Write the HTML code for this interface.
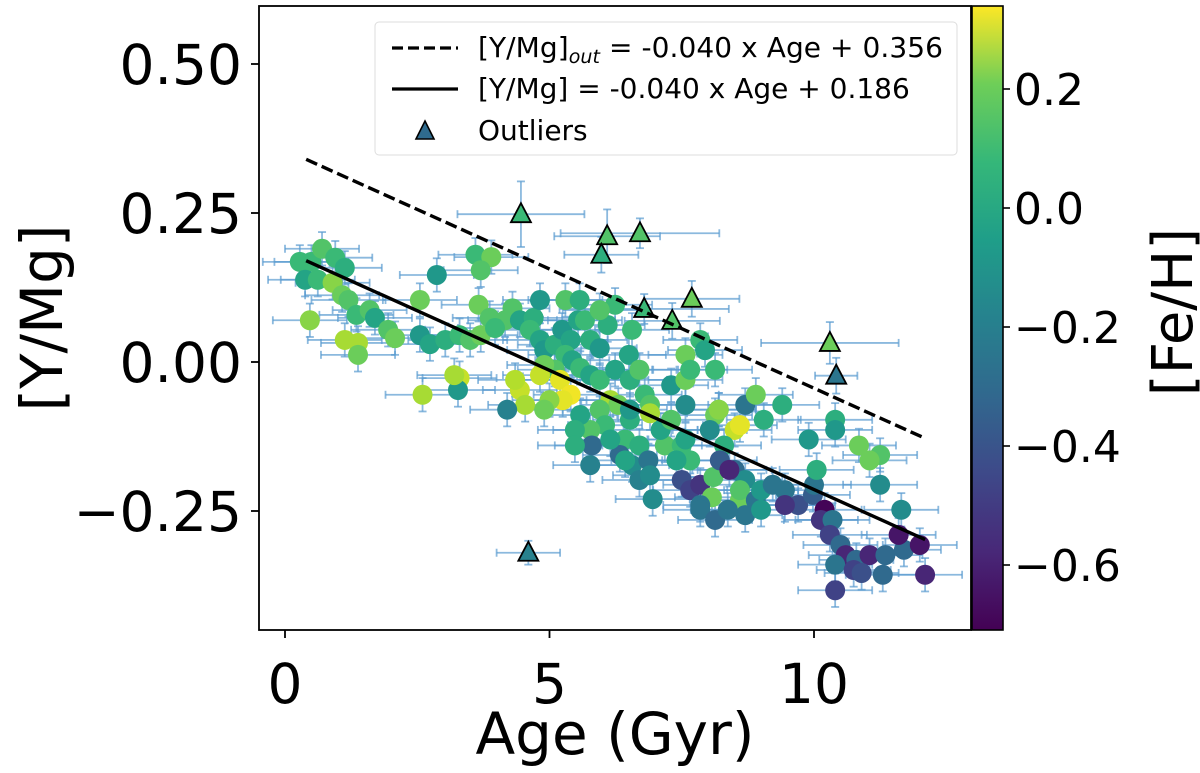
<!DOCTYPE html>
<html><head><meta charset="utf-8"><style>
html,body{margin:0;padding:0;background:#fff;}
svg{display:block;font-family:"DejaVu Sans","Liberation Sans",sans-serif;}
</style></head><body>
<svg id="chart" width="1200" height="773" viewBox="0 0 1200 773" xmlns="http://www.w3.org/2000/svg">
<defs>
<linearGradient id="vir" x1="0" y1="1" x2="0" y2="0">
<stop offset="0" stop-color="#440154"/><stop offset="0.125" stop-color="#482878"/><stop offset="0.25" stop-color="#3e4989"/><stop offset="0.375" stop-color="#31688e"/><stop offset="0.5" stop-color="#26828e"/><stop offset="0.625" stop-color="#1f9e89"/><stop offset="0.75" stop-color="#35b779"/><stop offset="0.875" stop-color="#6ece58"/><stop offset="1" stop-color="#fde725"/>
</linearGradient>
</defs>
<g id="errs"></g>
<g id="marks"></g>
<g id="fits"></g>
<rect x="259" y="6" width="712" height="624" fill="none" stroke="#000" stroke-width="1.8"/>
<g id="axes"></g>
<rect x="972" y="6" width="31" height="624" fill="url(#vir)" stroke="#000" stroke-width="1.6"/>
<g id="legend">
<rect x="375" y="22" width="582" height="133" rx="4" fill="#fff" fill-opacity="0.85" stroke="#ddd" stroke-width="1"/>
<g>
<line x1="392" y1="48" x2="458" y2="48" stroke="#000" stroke-width="3.2" stroke-dasharray="11,5"/>
<text x="478" y="57" font-size="28" textLength="465">[Y/Mg]<tspan font-size="19" font-style="italic" dy="6">out</tspan><tspan dy="-6"> = -0.040 x Age + 0.356</tspan></text>
</g>
<g>
<line x1="392" y1="89" x2="458" y2="89" stroke="#000" stroke-width="3.2"/>
<text x="478" y="98" font-size="28">[Y/Mg] = -0.040 x Age + 0.186</text>
</g>
<g>
<polygon points="425,121 434,139 416,139" fill="#2f6b8e" stroke="#000" stroke-width="1.6"/>
<text x="478" y="140" font-size="28">Outliers</text>
</g>
</g>
<text x="615" y="754" font-size="58" text-anchor="middle">Age (Gyr)</text>
<text transform="translate(62,318) rotate(-90)" font-size="58" text-anchor="middle">[Y/Mg]</text>
<text transform="translate(1192,312) rotate(-90)" font-size="56" text-anchor="middle">[Fe/H]</text>
</svg>
<script>
const xTicks=[0,5,10];
const xTickLabels=["0","5","10"];
const yTicks=[0.5,0.25,0,-0.25];
const yTickLabels=["0.50","0.25","0.00","\u22120.25"];
const cbTicks=[0.2,0,-0.2,-0.4,-0.6];
const cbTickLabels=["0.2","0.0","\u22120.2","\u22120.4","\u22120.6"];
const fitSlope=-0.040, fitOutIntercept=0.356, fitIntercept=0.186;
const fitRange=[0.4,12.1];
const pointAge=[0.28,0.5,0.7,0.95,1.13,0.38,0.62,0.9,1.08,0.47,1.2,1.35,1.6,1.7,1.95,2.08,1.13,1.38,1.38,2.55,2.87,3.6,3.9,3.7,2.55,2.74,3.03,3.3,3.5,3.7,3.66,3.87,4.16,4.3,3.97,4.44,4.7,4.82,4.63,4.82,4.9,5.1,5.24,5.4,5.54,5.3,5.57,5.67,5.3,5.77,5.95,6.1,6.24,5.95,5.43,5.58,5.77,5.1,4.9,4.82,5.2,5.4,5.25,5.0,4.44,4.54,4.9,4.35,3.3,3.27,2.6,4.2,5.95,6.15,6.3,5.95,6.05,5.77,6.24,6.5,6.56,6.52,6.7,6.8,6.43,6.7,6.33,6.56,6.43,6.87,6.7,6.9,6.95,7.18,7.1,7.3,7.5,7.57,7.66,7.4,7.5,7.66,7.85,8.07,8.1,7.85,7.57,6.9,7.3,7.57,8.2,8.13,8.5,8.6,8.3,8.03,7.57,7.66,8.13,7.85,7.94,8.2,8.7,8.9,8.22,8.5,8.7,8.6,8.6,8.4,8.7,8.9,9.0,7.85,8.13,8.37,9.0,9.22,9.45,9.7,9.45,9.98,10.0,10.05,10.2,10.13,10.35,10.3,10.5,10.6,10.8,11.05,11.35,11.7,12.0,12.1,10.4,10.75,10.9,11.3,10.4,11.6,11.65,11.25,11.25,11.05,10.85,10.4,10.4,9.9,9.4,9.05,6.9,5.58,5.48,5.8,6.15,5.77,5.48,6.52,6.52,3.2];
const pointYMg=[0.168,0.168,0.19,0.175,0.158,0.138,0.138,0.133,0.112,0.07,0.104,0.079,0.087,0.074,0.054,0.04,0.037,0.032,0.012,0.104,0.146,0.18,0.176,0.154,0.045,0.03,0.037,0.045,0.037,0.045,0.096,0.074,0.07,0.09,0.057,0.07,0.074,0.104,0.054,0.037,0.02,0.029,0.054,0.037,0.07,0.104,0.104,0.07,0.012,0.037,0.023,0.062,0.096,0.087,0.003,-0.01,-0.022,-0.013,-0.005,-0.022,-0.03,-0.055,-0.064,-0.064,-0.047,-0.072,-0.08,-0.03,-0.027,-0.047,-0.055,-0.08,-0.03,-0.064,-0.072,-0.08,-0.106,-0.114,-0.013,0.012,0.054,-0.03,-0.013,-0.055,-0.13,-0.14,-0.156,-0.173,-0.165,-0.165,-0.198,-0.19,-0.23,-0.14,-0.114,-0.097,-0.14,-0.13,-0.165,-0.165,-0.198,-0.215,-0.206,-0.227,-0.193,-0.24,-0.072,-0.072,-0.039,-0.03,-0.08,-0.089,-0.114,-0.106,-0.14,-0.114,0.012,-0.013,-0.013,0.037,0.02,-0.08,-0.072,-0.055,-0.165,-0.181,-0.198,-0.232,-0.215,-0.181,-0.257,-0.232,-0.248,-0.248,-0.265,-0.248,-0.215,-0.206,-0.215,-0.24,-0.24,-0.223,-0.206,-0.181,-0.248,-0.265,-0.265,-0.29,-0.307,-0.324,-0.332,-0.324,-0.324,-0.315,-0.307,-0.357,-0.34,-0.349,-0.354,-0.357,-0.383,-0.29,-0.248,-0.206,-0.156,-0.165,-0.14,-0.097,-0.114,-0.13,-0.072,-0.097,-0.086,-0.089,-0.114,-0.14,-0.13,-0.173,-0.14,-0.097,-0.08,-0.022];
const pointFeH=[0.0,0.0,0.05,0.0,-0.05,-0.1,0.0,0.15,0.1,0.15,0.05,0.0,0.05,-0.1,0.05,0.1,0.2,0.2,0.1,0.1,-0.15,0.0,0.1,0.05,-0.15,-0.1,-0.05,0.0,0.05,0.1,0.1,0.05,0.05,0.05,0.0,-0.1,-0.05,-0.15,0.0,-0.1,-0.15,-0.05,-0.15,-0.1,-0.1,0.05,-0.05,0.0,0.0,-0.05,-0.15,-0.05,0.0,0.05,-0.1,0.0,-0.1,0.05,0.1,0.25,0.3,0.32,0.3,0.15,0.25,0.2,0.1,0.22,0.25,-0.15,0.2,-0.25,0.0,0.2,0.1,0.05,0.0,0.05,-0.1,-0.1,0.0,-0.05,0.05,0.0,0.0,-0.05,-0.35,-0.2,-0.1,-0.3,-0.25,-0.2,-0.2,0.05,-0.1,0.05,0.0,-0.1,0.0,-0.1,-0.45,-0.5,-0.55,0.1,0.05,-0.3,-0.2,0.05,-0.15,0.1,0.0,0.1,0.25,0.3,-0.05,-0.2,0.1,0.0,0.0,0.0,-0.1,0.15,-0.3,0.1,-0.4,-0.35,-0.2,0.1,0.05,-0.6,-0.3,-0.3,-0.15,-0.3,-0.35,-0.3,-0.15,-0.3,-0.3,-0.45,-0.55,-0.4,-0.3,-0.05,-0.7,-0.55,-0.3,-0.5,-0.35,-0.6,-0.35,-0.6,-0.35,-0.35,-0.65,-0.6,-0.3,-0.5,-0.45,-0.35,-0.5,-0.65,-0.2,-0.2,0.05,0.1,0.1,-0.05,-0.15,-0.15,-0.05,-0.05,0.2,-0.1,-0.05,-0.35,-0.1,-0.25,-0.05,-0.05,-0.15,0.2];
const pointAgeErr=0.7, pointYErr=0.028;
const outAge=[4.46,6.09,5.98,6.71,6.79,7.32,7.69,10.3,10.42,4.6];
const outYMg=[0.248,0.211,0.18,0.216,0.089,0.069,0.106,0.032,-0.023,-0.32];
const outFeH=[0.0,0.05,-0.05,0.05,0.0,0.05,0.1,0.1,-0.3,-0.25];
const outAgeErr=[1.2,1.0,0.7,1.5,1.6,0.9,0.9,1.3,0.4,0.6];
const outYErr=[0.055,0.045,0.03,0.025,0.025,0.03,0.03,0.035,0.03,0.02];

const X=v=>285+52.9*v, Y=v=>362-596*v, CB=v=>208-595*v;
const NS="http://www.w3.org/2000/svg";
function mk(tag,attrs,parent){const e=document.createElementNS(NS,tag);for(const k in attrs)e.setAttribute(k,attrs[k]);parent.appendChild(e);return e;}
const vir=[[68,1,84],[72,40,120],[62,73,137],[49,104,142],[38,130,142],[31,158,137],[53,183,121],[110,206,88],[181,222,43],[253,231,37]];
function cmap(v){let t=(v+0.71)/(0.34+0.71);t=Math.max(0,Math.min(1,t))*(vir.length-1);const i=Math.min(vir.length-2,Math.floor(t)),f=t-i;const c=vir[i].map((a,j)=>Math.round(a+(vir[i+1][j]-a)*f));return `rgb(${c.join(',')})`;}
const errs=document.getElementById('errs'),marks=document.getElementById('marks'),fits=document.getElementById('fits'),axes=document.getElementById('axes');
function errbar(a,y,ea,ey){
 const g=mk('g',{stroke:'#5a9bd0','stroke-width':1.8,'stroke-opacity':0.7},errs);
 
 
 const x1=X(a-ea),x2=X(a+ea),y1=Y(y+ey),y2=Y(y-ey),cx=X(a),cy=Y(y);
 mk('line',{x1:x1,y1:cy,x2:x2,y2:cy},g);mk('line',{x1:cx,y1:y1,x2:cx,y2:y2},g);
 mk('line',{x1:x1,y1:cy-4,x2:x1,y2:cy+4},g);mk('line',{x1:x2,y1:cy-4,x2:x2,y2:cy+4},g);
 mk('line',{x1:cx-4,y1:y1,x2:cx+4,y2:y1},g);mk('line',{x1:cx-4,y1:y2,x2:cx+4,y2:y2},g);
}
pointAge.forEach((a,i)=>errbar(a,pointYMg[i],pointAgeErr,pointYErr));
outAge.forEach((a,i)=>errbar(a,outYMg[i],outAgeErr[i],outYErr[i]));
pointAge.forEach((a,i)=>{
 const c=mk('circle',{cx:X(a),cy:Y(pointYMg[i]),r:10,fill:cmap(pointFeH[i])},marks);
 
 
});
outAge.forEach((a,i)=>{
 const cx=X(a),cy=Y(outYMg[i]);
 const p=mk('polygon',{points:`${cx},${cy-11} ${cx+10},${cy+8} ${cx-10},${cy+8}`,fill:cmap(outFeH[i]),stroke:'#000','stroke-width':1.8},marks);
 
 
});
const l1=mk('line',{x1:X(fitRange[0]),y1:Y(fitSlope*fitRange[0]+fitOutIntercept),x2:X(fitRange[1]),y2:Y(fitSlope*fitRange[1]+fitOutIntercept),stroke:'#000','stroke-width':3.4,'stroke-dasharray':'12,5'},fits);


const l2=mk('line',{x1:X(fitRange[0]),y1:Y(fitSlope*fitRange[0]+fitIntercept),x2:X(fitRange[1]),y2:Y(fitSlope*fitRange[1]+fitIntercept),stroke:'#000','stroke-width':3.4},fits);


xTicks.forEach((v,i)=>{
 const t=mk('line',{x1:X(v),y1:630,x2:X(v),y2:638,stroke:'#000','stroke-width':1.8},axes);
 
 
 const s=mk('text',{x:X(v),y:703,'font-size':55,'text-anchor':'middle'},axes);s.textContent=xTickLabels[i];
 
 
});
yTicks.forEach((v,i)=>{
 const t=mk('line',{x1:251,y1:Y(v),x2:259,y2:Y(v),stroke:'#000','stroke-width':1.8},axes);
 
 
 const s=mk('text',{x:242,y:Y(v)+20,'font-size':55,'text-anchor':'end'},axes);s.textContent=yTickLabels[i];
 
 
});
cbTicks.forEach((v,i)=>{
 const t=mk('line',{x1:1003,y1:CB(v),x2:1010,y2:CB(v),stroke:'#000','stroke-width':1.6},axes);
 
 
 const s=mk('text',{x:1014,y:CB(v)+16,'font-size':44},axes);s.textContent=cbTickLabels[i];
 
 
});
</script>
</body></html>
